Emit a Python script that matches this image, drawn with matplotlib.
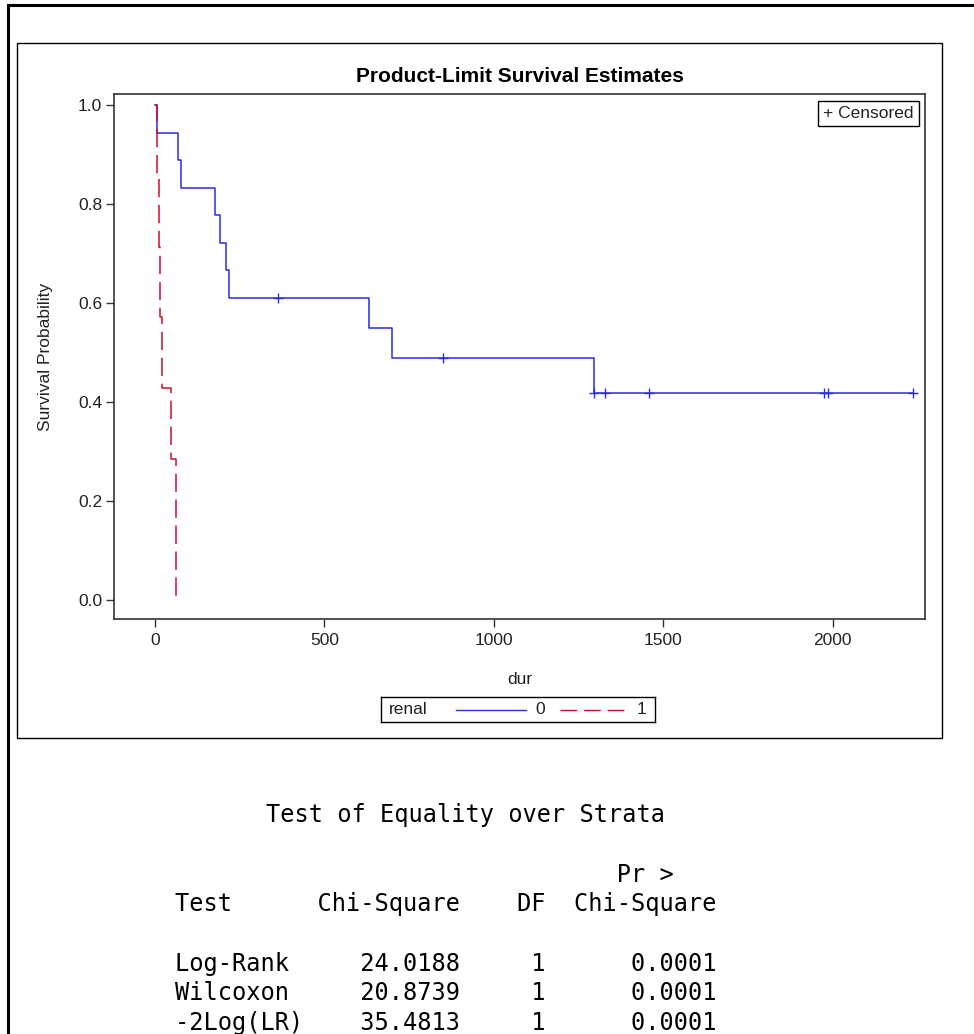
import matplotlib
matplotlib.use("Agg")
import matplotlib.pyplot as plt
import matplotlib.patches as mpatches
from matplotlib.lines import Line2D

W, H = 974, 1034

# group renal=0 : event times / survival estimates, censored times
t0_events = [0, 7, 67, 76, 178, 191, 209, 218, 632, 700, 1295]
s0_events = [1.0, 0.944, 0.889, 0.833, 0.778, 0.722, 0.667, 0.611, 0.550, 0.489, 0.419]
t0_cens = [362, 849, 1295, 1328, 1457, 1974, 1988, 2239]
s0_cens = [0.611, 0.489, 0.419, 0.419, 0.419, 0.419, 0.419, 0.419]

# group renal=1 : all events
t1_events = [0, 7, 12, 16, 20, 47, 63]
s1_events = [1.0, 0.857, 0.714, 0.571, 0.429, 0.286, 0.0]

# test of equality table
tests = ["Log-Rank", "Wilcoxon", "-2Log(LR)"]
chisq = [24.0188, 20.8739, 35.4813]
dfs = [1, 1, 1]
pvals = [0.0001, 0.0001, 0.0001]

BLUE = "#2b2be0"
RED = "#c8102e"
SANS = ["Liberation Sans", "DejaVu Sans"]
MONO = "DejaVu Sans Mono"
TXT = "#222222"


def fx(px):
    return px / W


def fy(py):
    return 1 - py / H


fig = plt.figure(figsize=(W / 100, H / 100), dpi=100, facecolor="white")

# page border (top and left) and the graph box
fig.add_artist(Line2D([fx(8), 1], [fy(5), fy(5)], color="black", lw=2.2))
fig.add_artist(Line2D([fx(8), fx(8)], [fy(5), 0], color="black", lw=2.2))
fig.add_artist(mpatches.Rectangle((fx(17), fy(738)), fx(942) - fx(17), fy(43) - fy(738),
                                  transform=fig.transFigure, fill=False,
                                  edgecolor="black", lw=1.0))

ax = fig.add_axes([fx(114), fy(619), fx(925) - fx(114), fy(94) - fy(619)])
ax.set_xlim(-121, 2273)
ax.set_ylim(-0.038, 1.022)

# blue line continues to the last censored time
ax.step(t0_events + [t0_cens[-1]], s0_events + [s0_events[-1]], where="post",
        color=BLUE, lw=1.1)
ax.plot(t0_cens, s0_cens, ls="none", marker="+", ms=7.5, mew=1.0, color=BLUE)
ax.step(t1_events, s1_events, where="post", color=RED, lw=1.1, dashes=(12, 5))

ax.set_xticks([0, 500, 1000, 1500, 2000])
ax.set_yticks([0.0, 0.2, 0.4, 0.6, 0.8, 1.0])
ax.set_yticklabels(["0.0", "0.2", "0.4", "0.6", "0.8", "1.0"])
ax.tick_params(length=6, width=1.0, color="#333333", labelsize=12.5,
               labelcolor=TXT, pad=4)
ax.tick_params(axis="y", pad=2.5)
for lab in ax.get_xticklabels() + ax.get_yticklabels():
    lab.set_family(SANS)
for sp in ax.spines.values():
    sp.set_color("#333333")
    sp.set_linewidth(1.2)

ax.set_xlabel("dur", family=SANS, fontsize=12.5, color=TXT, labelpad=17)
ax.set_ylabel("Survival Probability", family=SANS, fontsize=12.5, color=TXT,
              labelpad=18)
ax.set_title("Product-Limit Survival Estimates", family=SANS,
             fontweight="bold", fontsize=15, pad=9)

ax.text(0.986, 0.977, "+ Censored", transform=ax.transAxes, ha="right", va="top",
        family=SANS, fontsize=12.5, color=TXT,
        bbox=dict(boxstyle="square,pad=0.28", fc="white", ec="black", lw=1.0))

# bottom legend
lax = fig.add_axes([fx(381), fy(722), fx(655) - fx(381), fy(697) - fy(722)])
lax.set_xlim(0, 274)
lax.set_ylim(0, 25)
lax.set_xticks([])
lax.set_yticks([])
for sp in lax.spines.values():
    sp.set_color("black")
    sp.set_linewidth(1.0)
lax.text(8, 12.5, "renal", family=SANS, fontsize=12.5, va="center", ha="left", color=TXT)
lax.plot([75, 145], [12.5, 12.5], color=BLUE, lw=1.0)
lax.text(154, 12.5, "0", family=SANS, fontsize=12.5, va="center", ha="left", color=TXT)
lax.plot([179, 243], [12.5, 12.5], color=RED, lw=1.0, dashes=(12, 5))
lax.text(256, 12.5, "1", family=SANS, fontsize=12.5, va="center", ha="left", color=TXT)

# test of equality table (listing output)
fig.text(fx(266), fy(822), "Test of Equality over Strata", family=MONO, fontsize=17,
         va="baseline", ha="left")
fig.text(fx(175), fy(882), " " * 31 + "Pr >", family=MONO, fontsize=17,
         va="baseline", ha="left")
fig.text(fx(175), fy(911), "Test      Chi-Square    DF  Chi-Square", family=MONO,
         fontsize=17, va="baseline", ha="left")
for i, (name, c, d, p) in enumerate(zip(tests, chisq, dfs, pvals)):
    line = f"{name:<10}{c:>10.4f}{d:>6d}{p:>12.4f}"
    fig.text(fx(175), fy(971 + 29.3 * i), line, family=MONO, fontsize=17,
             va="baseline", ha="left")

fig.savefig("out.png", dpi=100, facecolor="white")
